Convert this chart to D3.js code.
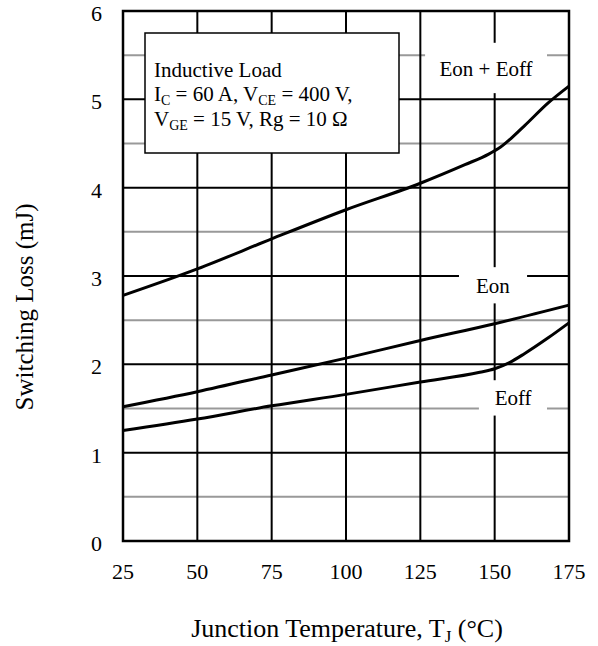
<!DOCTYPE html>
<html>
<head>
<meta charset="utf-8">
<script src="https://cdn.jsdelivr.net/npm/d3@7"></script>
<style>
  body { margin: 0; background: #fff; }
  text { font-family: "Liberation Serif", "Times New Roman", serif; fill: #000; }
</style>
</head>
<body>
<div id="chart"></div>
<script>
// values (T in degC, loss in mJ)
const eonEoff = [[25, 2.78], [50, 3.08], [75, 3.42], [100, 3.75], [125, 4.05], [140, 4.26], [148, 4.38], [152, 4.46], [160, 4.70], [168, 4.96], [175, 5.15]];
const eon = [[25, 1.52], [50, 1.69], [75, 1.88], [100, 2.07], [125, 2.27], [150, 2.46], [175, 2.67]];
const eoff = [[25, 1.25], [50, 1.38], [75, 1.53], [100, 1.66], [125, 1.80], [145, 1.91], [150, 1.95], [155, 2.02], [160, 2.12], [168, 2.30], [175, 2.47]];

const xTicks = [25, 50, 75, 100, 125, 150, 175];
const yTicks = [0, 1, 2, 3, 4, 5, 6];
const yHalf = [0.5, 1.5, 2.5, 3.5, 4.5, 5.5];

// curve labels: text, centre T, baseline loss, and the white gap cut into the grid [t0, t1, top, bottom]
const curveLabels = [
  {text: "Eon + Eoff", t: 147.1, v: 5.26, gap: [126.6, 167.6, 5.64, 5.07]},
  {text: "Eon", t: 149.4, v: 2.81, gap: [138.0, 160.9, 3.10, 2.69]},
  {text: "Eoff", t: 156.2, v: 1.54, gap: [144.7, 167.6, 1.82, 1.42]}
];

const W = 598, H = 646;
const svg = d3.select("#chart").append("svg").attr("width", W).attr("height", H);

const x = d3.scaleLinear().domain([25, 175]).range([123, 569]);
const y = d3.scaleLinear().domain([0, 6]).range([541, 11]);

const grid = svg.append("g");
grid.selectAll("line.half")
  .data(yHalf)
  .join("line")
    .attr("x1", x(25)).attr("x2", x(175))
    .attr("y1", d => y(d)).attr("y2", d => y(d))
    .attr("stroke", "#999").attr("stroke-width", 2);
grid.selectAll("line.hmaj")
  .data(yTicks.slice(1, -1))
  .join("line")
    .attr("x1", x(25)).attr("x2", x(175))
    .attr("y1", d => y(d)).attr("y2", d => y(d))
    .attr("stroke", "#000").attr("stroke-width", 2);
grid.selectAll("line.vmaj")
  .data(xTicks.slice(1, -1))
  .join("line")
    .attr("y1", y(0)).attr("y2", y(6))
    .attr("x1", d => x(d)).attr("x2", d => x(d))
    .attr("stroke", "#000").attr("stroke-width", 2);

// white gaps around curve labels
svg.append("g").selectAll("rect")
  .data(curveLabels)
  .join("rect")
    .attr("x", d => x(d.gap[0]))
    .attr("y", d => y(d.gap[2]))
    .attr("width", d => x(d.gap[1]) - x(d.gap[0]))
    .attr("height", d => y(d.gap[3]) - y(d.gap[2]))
    .attr("fill", "#fff");

const line = d3.line().x(d => x(d[0])).y(d => y(d[1])).curve(d3.curveMonotoneX);
svg.append("g").selectAll("path")
  .data([eonEoff, eon, eoff])
  .join("path")
    .attr("d", line)
    .attr("fill", "none")
    .attr("stroke", "#000")
    .attr("stroke-width", 3)
    .attr("stroke-linejoin", "round");

// frame
svg.append("rect")
  .attr("x", x(25)).attr("y", y(6))
  .attr("width", x(175) - x(25)).attr("height", y(0) - y(6))
  .attr("fill", "none").attr("stroke", "#000").attr("stroke-width", 2.5);

svg.append("g").selectAll("text")
  .data(curveLabels)
  .join("text")
    .attr("x", d => x(d.t))
    .attr("y", d => y(d.v))
    .attr("text-anchor", "middle")
    .attr("font-size", 21)
    .text(d => d.text);

// ticks
svg.append("g").selectAll("text")
  .data(xTicks)
  .join("text")
    .attr("x", d => x(d))
    .attr("y", 579)
    .attr("text-anchor", "middle")
    .attr("font-size", 22)
    .text(d => d);
svg.append("g").selectAll("text")
  .data(yTicks)
  .join("text")
    .attr("x", 102)
    .attr("y", d => y(d) + 10)
    .attr("text-anchor", "end")
    .attr("font-size", 22)
    .text(d => d);

// axis titles
const xt = svg.append("text")
  .attr("x", 347).attr("y", 637)
  .attr("text-anchor", "middle")
  .attr("font-size", 26);
xt.append("tspan").text("Junction Temperature, T");
xt.append("tspan").attr("font-size", 17).attr("dy", 5).text("J");
xt.append("tspan").attr("dy", -5).text(" (\u00B0C)");

svg.append("text")
  .attr("transform", "translate(33, 307) rotate(-90)")
  .attr("text-anchor", "middle")
  .attr("font-size", 25)
  .text("Switching Loss (mJ)");

// condition box
svg.append("rect")
  .attr("x", 145).attr("y", 33).attr("width", 254).attr("height", 120)
  .attr("fill", "#fff").attr("stroke", "#000").attr("stroke-width", 1.5);

const box = svg.append("g");
box.append("text").attr("x", 154).attr("y", 77).attr("font-size", 21).text("Inductive Load");

function subLine(yy, parts) {
  const t = box.append("text").attr("x", 154).attr("y", yy).attr("font-size", 21);
  parts.forEach(p => {
    if (p.sub) t.append("tspan").attr("font-size", 14).attr("dy", 4).text(p.sub);
    else t.append("tspan").attr("dy", p.after ? -4 : 0).text(p.txt);
  });
}
subLine(101, [{txt: "I"}, {sub: "C"}, {txt: " = 60 A, V", after: true}, {sub: "CE"}, {txt: " = 400 V,", after: true}]);
subLine(126, [{txt: "V"}, {sub: "GE"}, {txt: " = 15 V, Rg = 10 \u03A9", after: true}]);
</script>
</body>
</html>
